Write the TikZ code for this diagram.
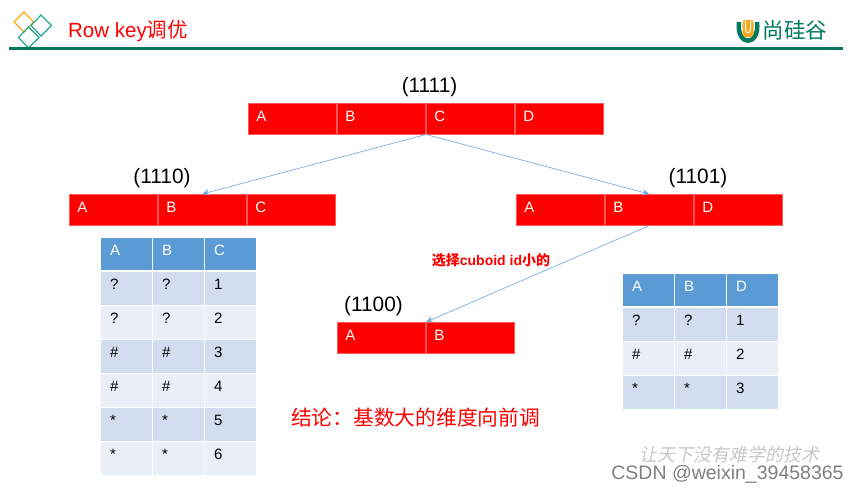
\documentclass[tikz,border=0pt]{standalone}
\usepackage{fontspec}
\usetikzlibrary{arrows.meta}
\setmainfont{Liberation Sans}
\newfontfamily\cjk{Noto Sans CJK SC}
\definecolor{bannergreen}{HTML}{00795F}
\definecolor{logoteal}{HTML}{1FA88E}
\definecolor{logoorange}{HTML}{F5A81C}
\definecolor{headblue}{HTML}{5B9BD5}
\definecolor{rowdark}{HTML}{D2DEEF}
\definecolor{rowlight}{HTML}{EAEFF7}
\definecolor{linkblue}{HTML}{7FAEDD}
\tikzset{
    barcell/.style={anchor=north west, fill=red, draw=red!65!white, line width=0.8pt, text=white,
        minimum height=31.5pt, minimum width=88.6pt, text width=72pt, inner xsep=8.3pt, inner ysep=0pt,
        outer sep=0pt, text height=12.5pt, text depth=7.5pt, font=\fontsize{15}{17}\selectfont},
    tabcell/.style={anchor=north west, draw=white, line width=1pt, minimum height=34pt, minimum width=52pt,
        text width=32pt, inner xsep=10pt, inner ysep=0pt, outer sep=0pt, text height=10pt, text depth=8pt,
        font=\fontsize{15}{17}\selectfont},
    headcell/.style={tabcell, fill=headblue, text=white},
    darkcell/.style={tabcell, fill=rowdark},
    lightcell/.style={tabcell, fill=rowlight},
    codelabel/.style={font=\fontsize{20.8}{24}\selectfont},
    link/.style={-{Stealth[length=7pt, width=6.5pt, fill=headblue]}, linkblue, line width=0.7pt}
}
\begin{document}
\begin{tikzpicture}[x=1pt, y=-1pt]

    \useasboundingbox (0,0) rectangle (858,492);

    % Logo squares
    \draw[logoorange, line width=1.2pt] (14,22) -- (24,12) -- (33.5,22) -- (24,32) -- cycle;
    \draw[logoteal, line width=1.2pt] (31,25.5) -- (41,15) -- (51.5,25.5) -- (41,36) -- cycle;
    \draw[logoteal, line width=1.2pt] (18.5,37.5) -- (28.5,27) -- (39,37.5) -- (28.5,48) -- cycle;

    % Banner
    \node (title) at (128,31) {\color{red}\fontsize{20.5}{24}\selectfont Row key{\cjk 调优}};
    \coordinate (ruleleft) at (9,49);
    \coordinate (ruleright) at (843,49);
    \draw[bannergreen, line width=3pt] (ruleleft) -- (ruleright);

    % Brand mark
    \draw[bannergreen, line width=4.5pt] (739,22) .. controls (736,47) and (760,47) .. (757,22);
    \fill[logoorange, rounded corners=3pt] (742.5,20) rectangle (753.5,37);
    \draw[white, line width=1pt] (745.5,21) -- (745.5,29) .. controls (745.5,34) and (750.5,34) .. (750.5,29) -- (750.5,21);
    \node (brand) at (795,30) {\color{bannergreen}\cjk\fontsize{21.5}{24}\selectfont 尚硅谷};

    % Top bar
    \node[codelabel] (label1111) at (429.5,87) {(1111)};
    \node[barcell] (top a) at (248,103) {A};
    \node[barcell] (top b) at (337,103) {B};
    \node[barcell] (top c) at (426,103) {C};
    \node[barcell] (top d) at (515,103) {D};

    % Left bar
    \node[codelabel] (label1110) at (162,178) {(1110)};
    \node[barcell] (left a) at (69,194) {A};
    \node[barcell] (left b) at (158,194) {B};
    \node[barcell] (left c) at (247,194) {C};

    % Right bar
    \node[codelabel] (label1101) at (698,178) {(1101)};
    \node[barcell] (right a) at (516,194) {A};
    \node[barcell] (right b) at (605,194) {B};
    \node[barcell] (right d) at (694,194) {D};

    % Bottom bar
    \node[codelabel] (label1100) at (373.5,306) {(1100)};
    \node[barcell] (low a) at (337,322) {A};
    \node[barcell] (low b) at (426,322) {B};

    % Links between bars
    \draw[link] (top c.south west) -- (left b.north);
    \draw[link] (top c.south west) -- (right b.north);
    \draw[link] (right b.south) -- (low b.north west);

    % Note on the last link
    \node (pick) at (491,260) {\color{red}\bfseries\fontsize{14}{16}\selectfont{\cjk\bfseries 选择}cuboid id{\cjk\bfseries 小的}};

    % Left table
    \node[headcell] (la0) at (100,237) {A};  \node[headcell] (lb0) at (152,237) {B};  \node[headcell] (lc0) at (204,237) {C};
    \node[darkcell] (la1) at (100,271) {?};  \node[darkcell] (lb1) at (152,271) {?};  \node[darkcell] (lc1) at (204,271) {1};
    \node[lightcell] (la2) at (100,305) {?}; \node[lightcell] (lb2) at (152,305) {?}; \node[lightcell] (lc2) at (204,305) {2};
    \node[darkcell] (la3) at (100,339) {\#}; \node[darkcell] (lb3) at (152,339) {\#}; \node[darkcell] (lc3) at (204,339) {3};
    \node[lightcell] (la4) at (100,373) {\#};\node[lightcell] (lb4) at (152,373) {\#};\node[lightcell] (lc4) at (204,373) {4};
    \node[darkcell] (la5) at (100,407) {*};  \node[darkcell] (lb5) at (152,407) {*};  \node[darkcell] (lc5) at (204,407) {5};
    \node[lightcell] (la6) at (100,441) {*}; \node[lightcell] (lb6) at (152,441) {*}; \node[lightcell] (lc6) at (204,441) {6};
    \draw[white, line width=2.5pt] (la0.south west) -- (lc0.south east);

    % Right table
    \node[headcell] (ra0) at (622,273) {A};  \node[headcell] (rb0) at (674,273) {B};  \node[headcell] (rd0) at (726,273) {D};
    \node[darkcell] (ra1) at (622,307) {?};  \node[darkcell] (rb1) at (674,307) {?};  \node[darkcell] (rd1) at (726,307) {1};
    \node[lightcell] (ra2) at (622,341) {\#};\node[lightcell] (rb2) at (674,341) {\#};\node[lightcell] (rd2) at (726,341) {2};
    \node[darkcell] (ra3) at (622,375) {*};  \node[darkcell] (rb3) at (674,375) {*};  \node[darkcell] (rd3) at (726,375) {3};
    \draw[white, line width=2.5pt] (ra0.south west) -- (rd0.south east);

    % Conclusion
    \node (result) at (415.5,418) {\color{red}\cjk\fontsize{20.75}{24}\selectfont 结论：基数大的维度向前调};

    % Watermarks
    \node[xslant=0.2] (slogan) at (731,455) {\color{black!22}\cjk\fontsize{18}{20}\selectfont 让天下没有难学的技术};
    \node (site) at (727.5,474) {\color{black!50}\fontsize{19.5}{22}\selectfont CSDN @weixin\_39458365};

\end{tikzpicture}
\end{document}
